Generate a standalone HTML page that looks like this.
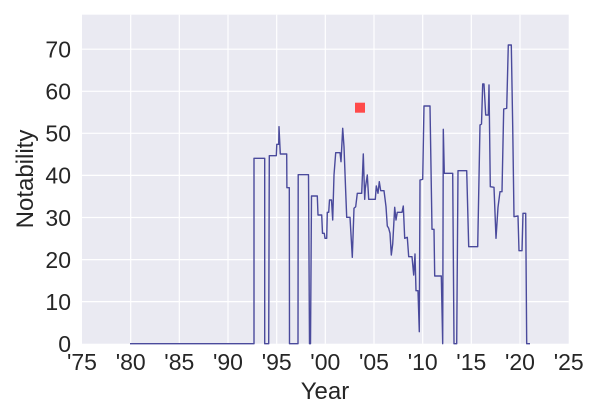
<!DOCTYPE html>
<html><head><meta charset="utf-8"><style>
body{margin:0;background:#fff}
svg{display:block}
text{font-family:"Liberation Sans",sans-serif;fill:#262626}
</style></head><body>
<svg width="600" height="420" viewBox="0 0 600 420">
<rect x="82" y="14.7" width="486.7" height="329" fill="#eaeaf2"/>
<g stroke="#fff" stroke-width="1.2">
<line x1="82" x2="568.7" y1="301.6" y2="301.6"/><line x1="82" x2="568.7" y1="259.6" y2="259.6"/>
<line x1="82" x2="568.7" y1="217.5" y2="217.5"/><line x1="82" x2="568.7" y1="175.4" y2="175.4"/>
<line x1="82" x2="568.7" y1="133.3" y2="133.3"/><line x1="82" x2="568.7" y1="91.3" y2="91.3"/>
<line x1="82" x2="568.7" y1="49.2" y2="49.2"/>
<line y1="14.7" y2="343.7" x1="130.7" x2="130.7"/><line y1="14.7" y2="343.7" x1="179.3" x2="179.3"/>
<line y1="14.7" y2="343.7" x1="228" x2="228"/><line y1="14.7" y2="343.7" x1="276.7" x2="276.7"/>
<line y1="14.7" y2="343.7" x1="325.3" x2="325.3"/><line y1="14.7" y2="343.7" x1="374" x2="374"/>
<line y1="14.7" y2="343.7" x1="422.7" x2="422.7"/><line y1="14.7" y2="343.7" x1="471.3" x2="471.3"/>
<line y1="14.7" y2="343.7" x1="520" x2="520"/>
</g>
<polyline fill="none" stroke="#4a4a9c" stroke-width="1.4" stroke-linejoin="round" points="
130,343.7 254,343.7 254,158.3 264.7,158.3 264.7,343.7 268.7,343.7 269.3,155.7 276.3,155.7 276.8,144.3 278.7,144.3 279,126.7 280.3,154 286.7,154 286.9,187.7 289.3,187.7 289.5,343.7 298,343.7 298.2,174.7 308.5,174.7 309.5,343.7 310.5,343.7 311.5,196 317.3,196 318,215 321.7,215 322.5,233.3 324.3,233.3 325,238.3 326.7,238.3 327.3,212.3 328.7,212.3 329.5,200 330.7,200 331.5,200 332.7,220 334,175 335.7,152.7 340,152.7 341,161.7 342.7,128.3 344,146.7 345.7,191.7 346.7,217.3 350,217.3 352.3,257.3 354,208.3 355.7,206.7 357.3,193.3 361.7,193.3 363.3,154 364.7,199.3 365.3,188.3 367.3,175 368.7,199.3 375.3,199.3 376.3,186 378,193.3 379.3,181.7 380.7,190.7 384,190.7 386,206.7 387.3,226 388.7,228.3 390,233.3 391.3,255 392.7,244 394.7,207.3 396,220 397.3,212.3 402,212.3 403.3,206 404.7,238.3 407.3,237.3 408.7,256.7 412,256.7 413.7,275 415,254 416,290.7 418,290.7 419.3,331.7 420,180 422.7,179.3 424,106 430,106 432,229.3 434,229.3 434.7,276 441.3,276 442.7,343.7 443.3,129.3 444.3,173.3 452.7,173.3 454,343.7 456.7,343.7 458,170.7 466.7,170.7 468.7,246.7 477.7,246.7 480,125 481.5,124 482.7,84 484,84 485.7,115 488.3,115 489,85 490.3,186.7 494,187.3 496,238.3 498,207.3 500,191.7 502,191.7 503.7,109 506.7,108.3 508.3,45 511.3,45 512.7,126 514,216.7 518,216 519,250.7 522,250.7 523,213.3 525.7,213.3 526.7,343.7 530,343.7"/>
<rect x="355" y="102.7" width="10" height="10" fill="#ff4a4a"/>
<g font-size="23" text-anchor="end">
<text x="71" y="352">0</text><text x="71" y="309.9">10</text><text x="71" y="267.8">20</text>
<text x="71" y="225.8">30</text><text x="71" y="183.7">40</text><text x="71" y="141.6">50</text>
<text x="71" y="99.5">60</text><text x="71" y="57.5">70</text>
</g>
<g font-size="23" text-anchor="middle">
<text x="82" y="370">'75</text><text x="130.7" y="370">'80</text><text x="179.3" y="370">'85</text>
<text x="228" y="370">'90</text><text x="276.7" y="370">'95</text><text x="325.3" y="370">'00</text>
<text x="374" y="370">'05</text><text x="422.7" y="370">'10</text><text x="471.3" y="370">'15</text>
<text x="520" y="370">'20</text><text x="568.7" y="370">'25</text>
<text x="325" y="399" font-size="24">Year</text>
<text transform="translate(33,179) rotate(-90)" font-size="24">Notability</text>
</g>
</svg>
</body></html>
